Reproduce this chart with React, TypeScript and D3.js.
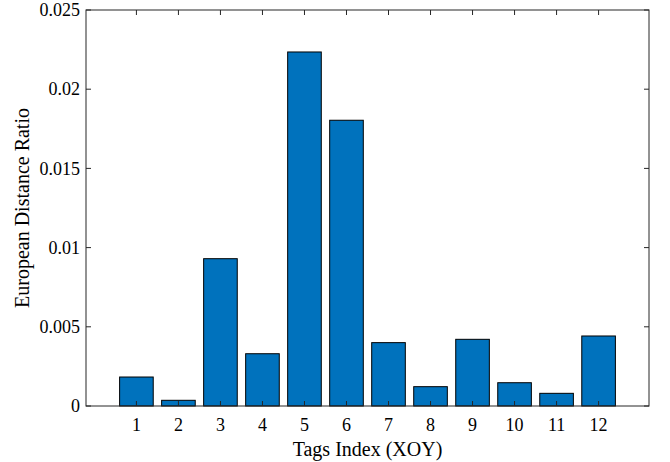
import React from "react";
import * as d3 from "d3";

const categories = [1, 2, 3, 4, 5, 6, 7, 8, 9, 10, 11, 12];
const values = [0.00183, 0.00036, 0.0093, 0.0033, 0.02235, 0.01804, 0.0040, 0.00122, 0.00421, 0.00147, 0.0008, 0.00442];
const yTicks = [0, 0.005, 0.01, 0.015, 0.02, 0.025];
const yTickLabels = ["0", "0.005", "0.01", "0.015", "0.02", "0.025"];
const xTitle = "Tags Index (XOY)";
const yTitle = "European Distance Ratio";

const W = 670, H = 462;
const L = 86, R = 649, T = 10, B = 406;
const FONT = "'Liberation Serif', 'Times New Roman', serif";
const AX = "#262626";

export default function App() {
  const x = d3.scaleLinear().domain([-0.2, 13.2]).range([L, R]);
  const y = d3.scaleLinear().domain([0, 0.025]).range([B, T]);
  const bw = x(0.8) - x(0);
  const tl = 5;
  return (
    <svg width={W} height={H} style={{ position: "absolute", left: 0, top: 0 }}>
      <rect x={0} y={0} width={W} height={H} fill="#fff" />
      {values.map((v, i) => (
        <rect key={i} x={x(categories[i]) - bw / 2} y={y(v)} width={bw} height={B - y(v)}
          fill="#0072BD" stroke="#000" strokeWidth={1} />
      ))}
      <rect x={L} y={T} width={R - L} height={B - T} fill="none" stroke={AX} strokeWidth={1} />
      {categories.map((c) => (
        <g key={c}>
          <line x1={x(c)} x2={x(c)} y1={B} y2={B - tl} stroke={AX} strokeWidth={1} />
          <line x1={x(c)} x2={x(c)} y1={T} y2={T + tl} stroke={AX} strokeWidth={1} />
          <text x={x(c)} y={431} textAnchor="middle" fontFamily={FONT} fontSize={18} fill="#000">{c}</text>
        </g>
      ))}
      {yTicks.map((t, i) => (
        <g key={t}>
          <line x1={L} x2={L + tl} y1={y(t)} y2={y(t)} stroke={AX} strokeWidth={1} />
          <line x1={R} x2={R - tl} y1={y(t)} y2={y(t)} stroke={AX} strokeWidth={1} />
          <text x={80} y={y(t)} dy="0.34em" textAnchor="end" fontFamily={FONT} fontSize={18} fill="#000">{yTickLabels[i]}</text>
        </g>
      ))}
      <text x={(L + R) / 2} y={456} textAnchor="middle" fontFamily={FONT} fontSize={20} fill="#000">{xTitle}</text>
      <text transform={`translate(29,${(T + B) / 2}) rotate(-90)`} textAnchor="middle" fontFamily={FONT} fontSize={20} fill="#000">{yTitle}</text>
    </svg>
  );
}
